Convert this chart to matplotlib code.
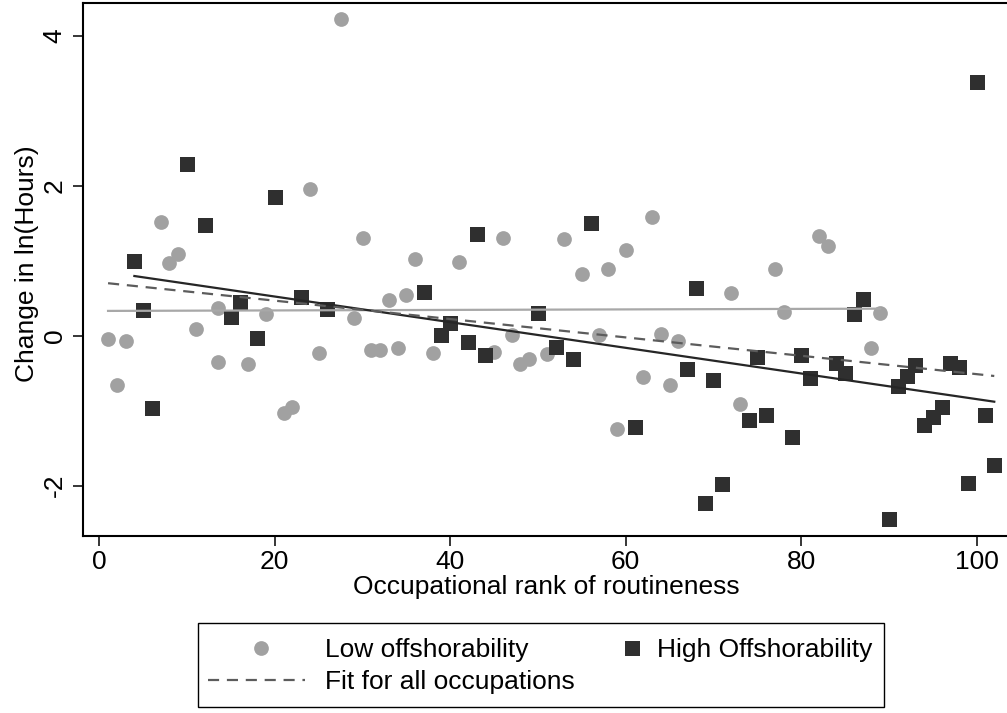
import numpy as np
import matplotlib
matplotlib.use("Agg")
import matplotlib.pyplot as plt
from matplotlib.lines import Line2D
from matplotlib.patches import Rectangle

plt.rcParams['font.family'] = ['Liberation Sans', 'DejaVu Sans']
plt.rcParams['axes.unicode_minus'] = False

# Occupations with low offshorability: rank of routineness and change in ln(hours)
low_rank = [1, 2, 3, 7, 8, 9, 11, 13.5, 13.5, 17, 19, 21, 22, 24, 25, 27.5, 29, 30,
            31, 32, 33, 34, 35, 36, 38, 41, 45, 46, 47, 48, 49, 51, 53, 55, 57, 58,
            59, 60, 62, 63, 64, 65, 66, 72, 73, 77, 78, 82, 83, 88, 89]
low_change = [-0.04, -0.66, -0.07, 1.52, 0.965, 1.09, 0.085, 0.365, -0.355, -0.38,
              0.285, -1.03, -0.95, 1.95, -0.227, 4.22, 0.236, 1.307, -0.19, -0.19,
              0.47, -0.17, 0.54, 1.02, -0.23, 0.987, -0.213, 1.307, 0.013, -0.38,
              -0.315, -0.24, 1.285, 0.82, 0.009, 0.89, -1.24, 1.14, -0.547, 1.58,
              0.023, -0.657, -0.075, 0.565, -0.907, 0.893, 0.316, 1.33, 1.19,
              -0.168, 0.307]

# Occupations with high offshorability
high_rank = [4, 5, 6, 10, 12, 15, 16, 18, 20, 23, 26, 37, 39, 40, 42, 43, 44, 50, 52,
             54, 56, 61, 67, 68, 69, 70, 71, 74, 75, 76, 79, 80, 81, 84, 85, 86, 87,
             90, 91, 92, 93, 94, 95, 96, 97, 98, 99, 100, 101, 102]
high_change = [1.0, 0.34, -0.97, 2.285, 1.47, 0.245, 0.445, -0.035, 1.845, 0.52,
               0.35, 0.58, 0.005, 0.165, -0.088, 1.35, -0.26, 0.30, -0.15, -0.315,
               1.50, -1.213, -0.45, 0.63, -2.235, -0.59, -1.98, -1.128, -0.28,
               -1.062, -1.355, -0.257, -0.568, -0.368, -0.50, 0.29, 0.485, -2.448,
               -0.67, -0.537, -0.39, -1.195, -1.088, -0.955, -0.368, -0.42, -1.964,
               3.38, -1.062, -1.728]

# linear fits: (intercept, slope)
low_fit = (0.33, 0.00034)
high_fit = (0.864, -0.0171)
all_fit = (0.712, -0.01225)

LOW_COLOR = '#a1a1a1'
HIGH_COLOR = '#2f2f2f'
FS = 19

W, H = 1007, 713
fig = plt.figure(figsize=(W / 100, H / 100), dpi=100)
ax = fig.add_axes([82.7 / W, 1 - 535.7 / H, (1009 - 82.7) / W, (535.7 - 3.3) / H])

ax.plot(low_rank, low_change, 'o', color=LOW_COLOR, markersize=10.6, markeredgewidth=0)
ax.plot(high_rank, high_change, 's', color=HIGH_COLOR, markersize=10.8, markeredgewidth=0)

def fit_line(a, b, xs):
    x = np.array([min(xs), max(xs)])
    return x, a + b * x

x, y = fit_line(*low_fit, low_rank)
ax.plot(x, y, color='#a8a8a8', lw=1.6)
x, y = fit_line(*high_fit, high_rank)
ax.plot(x, y, color='#262626', lw=1.6)
x, y = fit_line(*all_fit, low_rank + high_rank)
ax.plot(x, y, color='#5c5c5c', lw=1.6, dashes=(5, 3.5))

ax.set_xlim(-1.89, 103.68)
ax.set_ylim(-2.667, 4.432)
ax.set_xticks([0, 20, 40, 60, 80, 100])
ax.set_yticks([-2, 0, 2, 4])
for s in ax.spines.values():
    s.set_linewidth(1.5)
ax.tick_params(axis='both', direction='out', length=7.2, width=1.1, labelsize=FS)
ax.tick_params(axis='x', pad=3)
ax.tick_params(axis='y', pad=13)
for lab in ax.get_yticklabels():
    lab.set_rotation(90)
    lab.set_va('center')
    lab.set_ha('center')

ax.set_xlabel('Occupational rank of routineness', fontsize=FS, labelpad=1)
ax.set_ylabel('Change in ln(Hours)', fontsize=FS)
ax.yaxis.set_label_coords(-0.047, 0.51)

# legend box below the axes
def fx(px):
    return px / W

def fy(py):
    return 1 - py / H

fig.patches.append(Rectangle((fx(198), fy(707)), fx(884) - fx(198), fy(623) - fy(707),
                             transform=fig.transFigure, fill=False,
                             edgecolor='black', lw=1.0))
fig.lines.append(Line2D([fx(261)], [fy(648)], transform=fig.transFigure, marker='o',
                        color=LOW_COLOR, markersize=10.6, markeredgewidth=0))
fig.lines.append(Line2D([fx(632)], [fy(648)], transform=fig.transFigure, marker='s',
                        color=HIGH_COLOR, markersize=10.8, markeredgewidth=0))
fig.lines.append(Line2D([fx(208), fx(305)], [fy(680), fy(680)], transform=fig.transFigure,
                        color='#5c5c5c', lw=1.6, dashes=(5, 3.5)))
fig.text(fx(325), fy(648), 'Low offshorability', fontsize=FS, va='center_baseline')
fig.text(fx(657), fy(648), 'High Offshorability', fontsize=FS, va='center_baseline')
fig.text(fx(325), fy(680), 'Fit for all occupations', fontsize=FS, va='center_baseline')

fig.savefig('out.png', dpi=100)
